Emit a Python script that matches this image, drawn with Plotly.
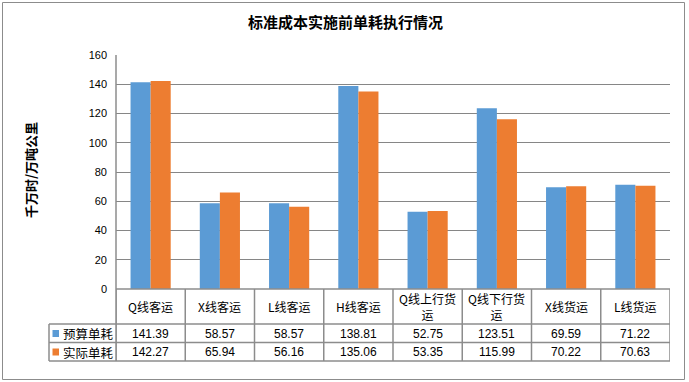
import plotly.graph_objects as go

categories = ["Q线客运", "X线客运", "L线客运", "H线客运", "Q线上行货运", "Q线下行货运", "X线货运", "L线货运"]
header_labels = ["Q线客运", "X线客运", "L线客运", "H线客运", "Q线上行货<br>运", "Q线下行货<br>运", "X线货运", "L线货运"]
budget = [141.39, 58.57, 58.57, 138.81, 52.75, 123.51, 69.59, 71.22]
actual = [142.27, 65.94, 56.16, 135.06, 53.35, 115.99, 70.22, 70.63]
series_names = ["预算单耗", "实际单耗"]
colors = ["#5B9BD5", "#ED7D31"]
title = "标准成本实施前单耗执行情况"
ytitle = "千万时/万吨公里"

W, H = 689, 382
L, R, T, B = 116, 670, 55, 289
PW, PH = R - L, B - T


def xp(px):
    return (px - L) / PW


def yp(py):
    return (B - py) / PH


fig = go.Figure()
for name, vals, c in zip(series_names, [budget, actual], colors):
    fig.add_trace(go.Bar(x=categories, y=vals, name=name, marker=dict(color=c, line=dict(width=0))))

line_col = "#8C8C8C"
shapes = []
# outer border
shapes.append(dict(type="rect", xref="paper", yref="paper", x0=xp(2.5), x1=xp(684.5), y0=yp(2.5), y1=yp(379.5),
                   line=dict(color="#8C8C8C", width=1), fillcolor="rgba(0,0,0,0)", layer="below"))
# table horizontals
shapes.append(dict(type="line", xref="paper", yref="paper", x0=0, x1=1, y0=0, y1=0, line=dict(color=line_col, width=1.5)))
for py in [324, 342.5, 361]:
    shapes.append(dict(type="line", xref="paper", yref="paper", x0=xp(49), x1=1, y0=yp(py), y1=yp(py),
                       line=dict(color=line_col, width=1.5)))
# legend column left border
shapes.append(dict(type="line", xref="paper", yref="paper", x0=xp(49), x1=xp(49), y0=yp(324), y1=yp(361),
                   line=dict(color=line_col, width=1.5)))
# y axis line
shapes.append(dict(type="line", xref="paper", yref="paper", x0=0, x1=0, y0=1, y1=yp(361),
                   line=dict(color=line_col, width=1.5)))
# category boundaries
for i in range(len(categories) + 1):
    shapes.append(dict(type="line", xref="x", yref="paper", x0=i - 0.5, x1=i - 0.5, y0=0, y1=yp(361),
                       line=dict(color=line_col, width=1.5)))

annotations = []
annotations.append(dict(text="<b>" + title + "</b>", xref="paper", yref="paper", x=xp(345), y=yp(21),
                        xanchor="center", yanchor="middle",
                        showarrow=False, font=dict(size=15, color="#000000", family="Noto Sans CJK SC")))
annotations.append(dict(text="<b>" + ytitle + "</b>", xref="paper", yref="paper", x=xp(30), y=yp(170),
                        xanchor="center", yanchor="middle",
                        textangle=-90, showarrow=False, font=dict(size=13, color="#000000", family="Noto Sans CJK SC")))
for i, lab in enumerate(header_labels):
    annotations.append(dict(text=lab, xref="x", yref="paper", x=categories[i], y=yp(306.5), showarrow=False,
                            xanchor="center", yanchor="middle",
                            font=dict(size=12, color="#000000", family="Noto Sans CJK SC"), align="center"))
for row_y, vals in zip([333.5, 352], [budget, actual]):
    for i, v in enumerate(vals):
        annotations.append(dict(text=f"{v:.2f}", xref="x", yref="paper", x=categories[i], y=yp(row_y),
                                xanchor="center", yanchor="middle",
                                showarrow=False, font=dict(size=12, color="#000000", family="Liberation Sans")))
for row_y, name, c in zip([333.5, 352], series_names, colors):
    shapes.append(dict(type="rect", xref="paper", yref="paper", x0=xp(52.5), x1=xp(59), y0=yp(row_y - 3.5),
                       y1=yp(row_y + 3.5), fillcolor=c, line=dict(width=0)))
    annotations.append(dict(text=name, xref="paper", yref="paper", x=xp(60.5), y=yp(row_y),
                            xanchor="left", yanchor="middle",
                            showarrow=False, font=dict(size=12.5, color="#000000", family="Noto Sans CJK SC")))

fig.update_layout(
    width=W, height=H,
    margin=dict(l=L, r=W - R, t=T, b=H - B, pad=0),
    paper_bgcolor="white", plot_bgcolor="white",
    showlegend=False,
    barmode="group", bargap=0.42, bargroupgap=0,
    shapes=shapes, annotations=annotations,
    xaxis=dict(showticklabels=False, showgrid=False, zeroline=False, showline=False, ticks="",
               range=[-0.5, len(categories) - 0.5]),
    yaxis=dict(range=[0, 160], dtick=20, showgrid=True, gridcolor="#868686", gridwidth=1.2, zeroline=False,
               showline=False, ticks="", ticklabelstandoff=8,
               tickfont=dict(size=11, color="#000000", family="Liberation Sans")),
)

fig.write_html("out.html", config={"displayModeBar": False},
               post_script="document.body.style.margin='0px';document.body.style.overflow='hidden';")
